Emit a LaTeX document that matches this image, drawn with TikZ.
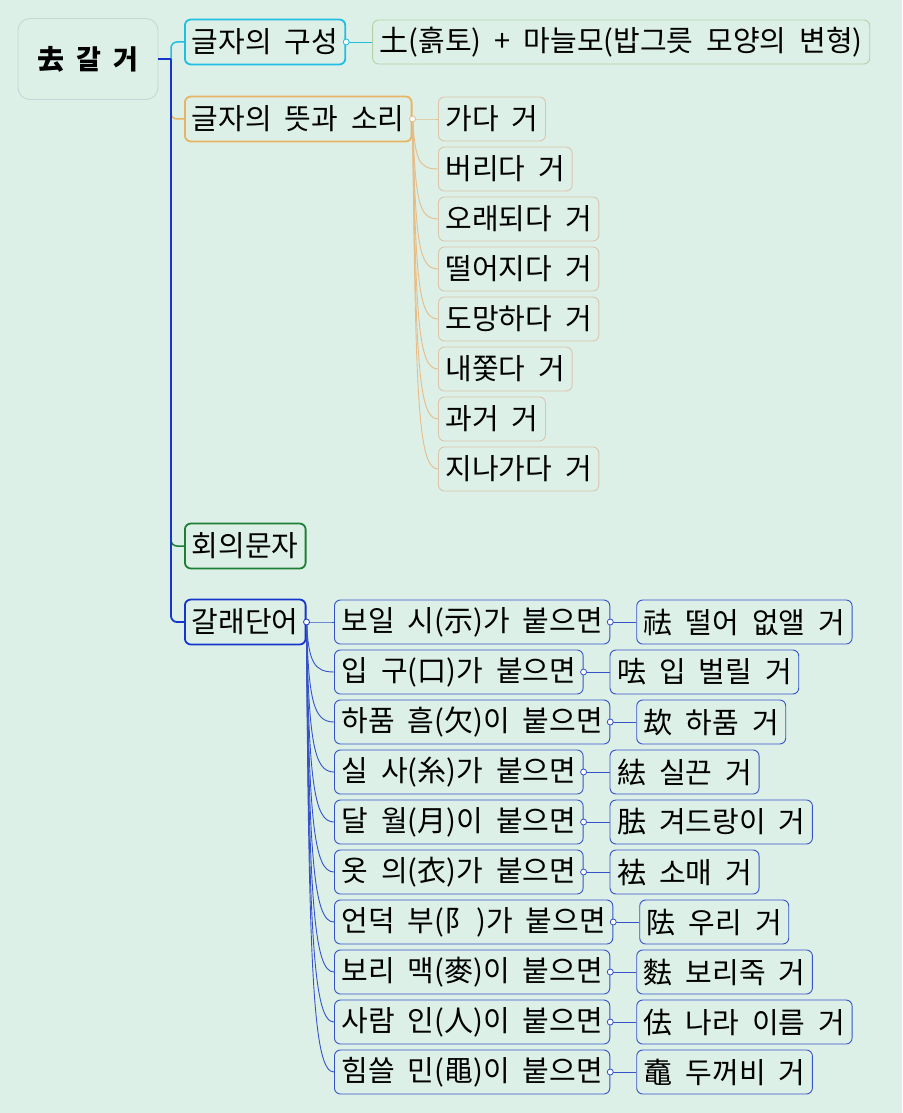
\documentclass[tikz,border=0pt]{standalone}
\usepackage{fontspec}
\setmainfont{Noto Sans CJK KR}[WordSpace=2]
\usetikzlibrary{positioning}

\definecolor{bgmint}{HTML}{DCF0E8}
\definecolor{rootgray}{HTML}{C8D6D8}
\definecolor{cyanline}{HTML}{20BEE0}
\definecolor{orangeline}{HTML}{E8B464}
\definecolor{greenline}{HTML}{1E7E34}
\definecolor{blueline}{HTML}{1436CC}
\definecolor{leafgreen}{HTML}{B4D0A4}
\definecolor{leaftan}{HTML}{DCC4AC}
\definecolor{soundline}{HTML}{E6BC88}
\definecolor{leafblue}{HTML}{3552C8}

\tikzset{
	topic/.style={draw, rounded corners=6pt, line width=1.8pt, fill=bgmint, inner xsep=7pt, minimum height=45pt, anchor=west, font=\fontsize{29}{32}\selectfont},
	leaf/.style={draw, rounded corners=6pt, line width=0.9pt, fill=bgmint, inner xsep=7pt, minimum height=44pt, anchor=west, font=\fontsize{29}{32}\selectfont},
	knob/.style={circle, draw, fill=white, line width=0.8pt, inner sep=0pt, minimum size=6pt}
}

\begin{document}
\begin{tikzpicture}[x=1pt, y=-1pt]
\useasboundingbox[fill=bgmint] (0,0) rectangle (902,1113);

\node[draw=rootgray, line width=0.9pt, rounded corners=12pt, minimum width=140pt, minimum height=81pt, font=\fontsize{27}{30}\selectfont\bfseries] (root) at (88,59) {去 갈 거};
\coordinate (hub) at (171,59);

\node[topic, draw=cyanline] (form) at (184,42) {글자의 구성};
\node[topic, draw=orangeline] (meaning) at (184,119) {글자의 뜻과 소리};
\node[topic, draw=greenline] (kind) at (184,546) {회의문자};
\node[topic, draw=blueline] (words) at (184,622) {갈래단어};

\draw[cyanline, line width=1.5pt, rounded corners=6pt] (hub) |- (form.west);
\draw[orangeline, line width=1.5pt, rounded corners=6pt] (hub) |- (meaning.west);
\draw[greenline, line width=1.5pt, rounded corners=6pt] (hub) |- (kind.west);
\draw[blueline, line width=1.8pt, rounded corners=6pt] (hub) |- (words.west);
\draw[blueline, line width=1.8pt] (root.east) -- (hub);

\node[leaf, draw=leafgreen, right=26pt of form] (shape) {土(흙토) + 마늘모(밥그릇 모양의 변형)};
\draw[cyanline, line width=0.9pt] (form.east) -- (shape.west);
\node[knob, draw=cyanline] at (form.east) {};

\foreach \t [count=\i from 0] in {가다 거, 버리다 거, 오래되다 거, 떨어지다 거, 도망하다 거, 내쫓다 거, 과거 거, 지나가다 거}
{
	\node[leaf, draw=leaftan] (sound\i) at (438, 119+50*\i) {\t};
	\draw[soundline, line width=0.9pt] (meaning.east) .. controls +(3, 40*\i) and +(-20, 0) .. (sound\i.west);
}
\node[knob, draw=soundline] at (meaning.east) {};

\foreach \a/\b [count=\i from 0] in {보일 시(示)가 붙으면/祛 떨어 없앨 거, 입 구(口)가 붙으면/呿 입 벌릴 거, 하품 흠(欠)이 붙으면/㰦 하품 거, 실 사(糸)가 붙으면/紶 실끈 거, 달 월(月)이 붙으면/胠 겨드랑이 거, 옷 의(衣)가 붙으면/袪 소매 거, 언덕 부(阝\hspace{3pt})가 붙으면/阹 우리 거, 보리 맥(麥)이 붙으면/麮 보리죽 거, 사람 인(人)이 붙으면/佉 나라 이름 거, 힘쓸 민(黽)이 붙으면/鼁 두꺼비 거}
{
	\node[leaf, draw=leafblue] (rad\i) at (334, 622+50*\i) {\a};
	\node[leaf, draw=leafblue, right=26pt of rad\i] (res\i) {\b};
	\draw[leafblue, line width=0.9pt] (words.east) .. controls +(2, 40*\i) and +(-20, 0) .. (rad\i.west);
	\draw[leafblue, line width=0.9pt] (rad\i.east) -- (res\i.west);
	\node[knob, draw=leafblue] at (rad\i.east) {};
}
\node[knob, draw=blueline] at (words.east) {};
\end{tikzpicture}
\end{document}
